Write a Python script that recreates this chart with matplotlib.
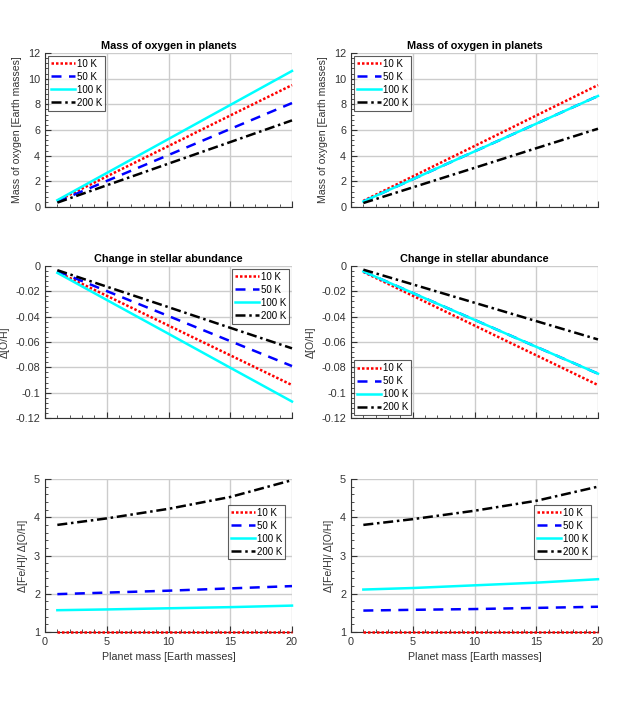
import numpy as np
import matplotlib.pyplot as plt
from matplotlib.ticker import AutoMinorLocator

plt.rcParams['font.family'] = ['Liberation Sans', 'DejaVu Sans']
plt.rcParams['axes.unicode_minus'] = False

# planet mass [Earth masses]
mass = [1, 5, 10, 15, 20]
labels = ["10 K", "50 K", "100 K", "200 K"]

# left column
oxy_left = {
    "10 K": [0.48, 2.38, 4.75, 7.13, 9.5],
    "50 K": [0.41, 2.03, 4.05, 6.08, 8.1],
    "100 K": [0.53, 2.65, 5.3, 7.95, 10.6],
    "200 K": [0.34, 1.69, 3.38, 5.06, 6.75],
}
doh_left = {
    "10 K": [-0.0047, -0.0235, -0.047, -0.0705, -0.094],
    "50 K": [-0.004, -0.0198, -0.0395, -0.0593, -0.079],
    "100 K": [-0.0054, -0.0268, -0.0535, -0.0803, -0.107],
    "200 K": [-0.0033, -0.0163, -0.0325, -0.0488, -0.065],
}
ratio_left = {
    "10 K": [1.0, 1.0, 1.0, 1.0, 1.0],
    "50 K": [1.99, 2.03, 2.08, 2.14, 2.2],
    "100 K": [1.57, 1.59, 1.62, 1.65, 1.69],
    "200 K": [3.8, 3.97, 4.22, 4.53, 4.97],
}

# right column (50 K lies under 100 K in the upper panels)
oxy_right = {
    "10 K": [0.48, 2.38, 4.75, 7.13, 9.5],
    "50 K": [0.43, 2.16, 4.33, 6.49, 8.65],
    "100 K": [0.43, 2.16, 4.33, 6.49, 8.65],
    "200 K": [0.31, 1.53, 3.05, 4.58, 6.1],
}
doh_right = {
    "10 K": [-0.0047, -0.0235, -0.047, -0.0705, -0.094],
    "50 K": [-0.0043, -0.0213, -0.0425, -0.0638, -0.085],
    "100 K": [-0.0043, -0.0213, -0.0425, -0.0638, -0.085],
    "200 K": [-0.0029, -0.0145, -0.029, -0.0435, -0.058],
}
ratio_right = {
    "10 K": [1.0, 1.0, 1.0, 1.0, 1.0],
    "50 K": [1.56, 1.58, 1.6, 1.63, 1.66],
    "100 K": [2.11, 2.15, 2.22, 2.29, 2.38],
    "200 K": [3.8, 3.95, 4.17, 4.43, 4.8],
}

styles = {
    "10 K": dict(color="red", linestyle=(0, (1, 0.8))),
    "50 K": dict(color="blue", linestyle=(0, (4, 3))),
    "100 K": dict(color="cyan", linestyle="-"),
    "200 K": dict(color="black", linestyle=(0, (4, 1.5, 1, 1.5))),
}

fig = plt.figure(figsize=(6.29, 7.11), dpi=100)
W, H = 629, 711
cols = [45, 351]
rows = [(53, 207), (266, 418), (479, 632)]
aw = 247


def make_ax(col, row):
    x0 = cols[col]
    y0, y1 = rows[row]
    return fig.add_axes([x0 / W, 1 - y1 / H, aw / W, (y1 - y0) / H])


def style_ax(ax, ylim, yticks, ylabel, title=None, xlabel=False):
    ax.set_xlim(0, 20)
    ax.set_ylim(*ylim)
    ax.set_xticks([0, 5, 10, 15, 20])
    ax.set_yticks(yticks)
    ax.xaxis.set_minor_locator(AutoMinorLocator(5))
    ax.yaxis.set_minor_locator(AutoMinorLocator(5))
    ax.grid(True, color="#cccccc", linewidth=1)
    ax.set_axisbelow(True)
    for s in ["top", "right"]:
        ax.spines[s].set_visible(False)
    for s in ["left", "bottom"]:
        ax.spines[s].set_color("#333333")
    ax.tick_params(which="both", direction="in", labelsize=7.8,
                   colors="#333333", top=False, right=False)
    ax.tick_params(which="major", length=4)
    ax.tick_params(which="minor", length=2)
    if not xlabel:
        ax.set_xticklabels([])
    else:
        ax.set_xlabel("Planet mass [Earth masses]", fontsize=7.7, color="#333333")
    ax.set_ylabel(ylabel, fontsize=7.6, color="#333333")
    if title:
        ax.set_title(title, fontsize=7.8, fontweight="bold", pad=3)


def draw(ax, data, legend_kw):
    for lab in labels:
        ax.plot(mass, data[lab], label=lab, linewidth=1.8, clip_on=False,
                zorder=3, **styles[lab])
    leg = ax.legend(fontsize=7, fancybox=False, edgecolor="#333333",
                    handlelength=2.5, borderpad=0.3, labelspacing=0.3,
                    handletextpad=0.2, borderaxespad=0.3, **legend_kw)
    leg.get_frame().set_linewidth(0.8)
    leg.set_zorder(5)


oxy_ticks = [0, 2, 4, 6, 8, 10, 12]
doh_ticks = [-0.12, -0.1, -0.08, -0.06, -0.04, -0.02, 0]
ratio_ticks = [1, 2, 3, 4, 5]

for col, (oxy, doh, ratio, doh_loc) in enumerate([
        (oxy_left, doh_left, ratio_left, "upper right"),
        (oxy_right, doh_right, ratio_right, "lower left")]):
    ax = make_ax(col, 0)
    draw(ax, oxy, dict(loc="upper left"))
    style_ax(ax, (0, 12), oxy_ticks, "Mass of oxygen [Earth masses]",
             title="Mass of oxygen in planets")

    ax = make_ax(col, 1)
    draw(ax, doh, dict(loc=doh_loc))
    style_ax(ax, (-0.12, 0), doh_ticks, "Δ[O/H]",
             title="Change in stellar abundance")
    ax.set_yticklabels(["-0.12", "-0.1", "-0.08", "-0.06", "-0.04", "-0.02", "0"])

    ax = make_ax(col, 2)
    draw(ax, ratio, dict(loc="upper right", bbox_to_anchor=(0.985, 0.85)))
    style_ax(ax, (1, 5), ratio_ticks, "Δ[Fe/H]/ Δ[O/H]", xlabel=True)

plt.savefig("out.png", dpi=100)
